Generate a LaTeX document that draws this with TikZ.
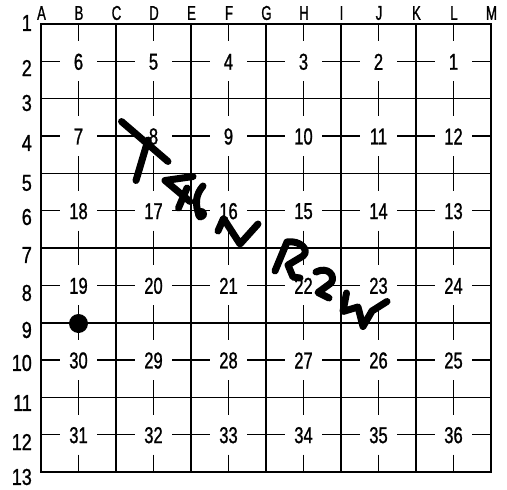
\documentclass[tikz,border=0pt]{standalone}
\usepackage{fontspec}
\newfontfamily\secfont[FakeStretch=0.72,FakeBold=1]{Liberation Sans}
\newfontfamily\rowfont[FakeStretch=0.78,FakeBold=1]{Liberation Sans}
\newfontfamily\letfont[FakeStretch=0.66,FakeBold=1]{Liberation Sans}
\begin{document}
\begin{tikzpicture}[x=1pt,y=-1pt,
  secnum/.style={font=\secfont\fontsize{23}{23}\selectfont, inner sep=0pt},
  rownum/.style={font=\rowfont\fontsize{23}{23}\selectfont, inner sep=0pt, anchor=east},
  colname/.style={font=\letfont\fontsize{20}{20}\selectfont, inner sep=0pt},
  vline/.style={line width=2pt},
  hline/.style={line width=1.5pt},
  midline/.style={line width=1.4pt},
  hand/.style={line width=7pt, line cap=round, line join=round}]
\useasboundingbox (0,0) rectangle (507,490);
\fill[white] (0,0) rectangle (507,490);
% midlines (quarter lines) with gaps around section numbers
\foreach \c in {0,...,5}{
  \foreach \r in {0,...,5}{
    \pgfmathsetmacro\xl{41+75*\c}
    \pgfmathsetmacro\xr{116+75*\c}
    \pgfmathsetmacro\xc{78.5+75*\c}
    \pgfmathsetmacro\yt{24+74.67*\r}
    \pgfmathsetmacro\yb{98.67+74.67*\r}
    \pgfmathsetmacro\yc{61.33+74.67*\r}
    \draw[midline] (\xc,\yt) -- (\xc,{\yc-20});
    \draw[midline] (\xc,{\yc+20}) -- (\xc,\yb);
    \draw[midline] (\xl,\yc) -- ({\xc-18.5},\yc);
    \draw[midline] ({\xc+18.5},\yc) -- (\xr,\yc);
    \pgfmathtruncatemacro\n{mod(\r,2)==0 ? 6*\r+6-\c : 6*\r+\c+1}
    \node[secnum] (s\n) at (\xc,{\yc+0.5}) {\n};
  }
}
% section lines
\foreach \j in {1,...,5}{
  \pgfmathsetmacro\yy{24+74.67*\j}
  \draw[hline] (41,\yy) -- (491,\yy);
}
\draw[line width=2pt] (41,322.7) -- (491,322.7);
\foreach \i in {1,...,5}{
  \pgfmathsetmacro\xx{41+75*\i}
  \draw[vline] (\xx,24) -- (\xx,472);
}
\draw[line width=2pt] (41,24) rectangle (491,472);
% column letters
\foreach \L [count=\k from 0] in {A,B,C,D,E,F,G,H,I,J,K,L,M}{
  \pgfmathsetmacro\xx{41.5+37.5*\k}
  \node[colname] (c\L) at (\xx,13) {\L};
}
% row numbers
\foreach \yy [count=\k] in {23,68,103,143,183,217,255,293,330,363,403,442,477}{
  \node[rownum] (r\k) at (32,\yy) {\k};
}
% dot at B9
\fill (78.5,323.5) circle (9.5);
% handwriting T4N R2W
\draw[hand] (121.5,121.5) -- (168,161.5);
\draw[hand] (148,140) -- (136,180.5);
\draw[hand] (193,176.5) -- (165,180.5) -- (190,201.5);
\draw[hand] (187,188) -- (178.5,208);
\draw[hand] (203,186) .. controls (196,194) and (194,204) .. (200,217);
\fill (201,214) circle (6);
\draw[hand] (218,231) -- (223.5,218.5) -- (240,244) -- (258,224);
\draw[hand] (275,271) -- (287,242) .. controls (300,240) and (310,250) .. (303,256) -- (288,265) -- (293,277) -- (300,278);
\draw[hand] (316,272) .. controls (328,266) and (336,276) .. (331,283) -- (318,292.5) -- (329,298);
\draw[hand] (346.5,293) -- (343,311.5) -- (358,307) -- (363,326.5) -- (372,311) -- (387,301.5);
\end{tikzpicture}
\end{document}
